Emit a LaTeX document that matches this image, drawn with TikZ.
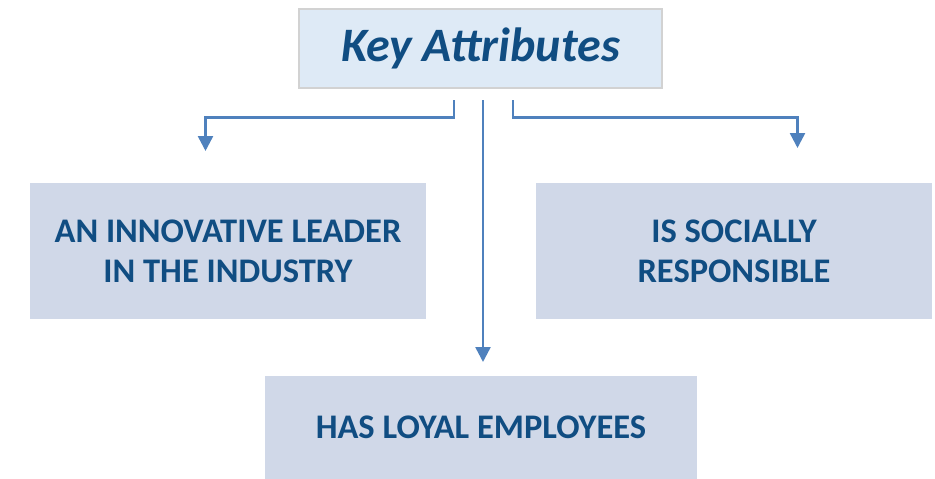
\documentclass[tikz,border=0pt]{standalone}
\usepackage{fontspec}
\setmainfont{Carlito}
\usetikzlibrary{arrows.meta}
\definecolor{txtblue}{RGB}{16,77,130}
\definecolor{boxfill}{RGB}{208,216,232}
\definecolor{topfill}{RGB}{222,234,246}
\definecolor{topline}{RGB}{210,210,210}
\definecolor{connblue}{RGB}{79,129,189}
\begin{document}
\begin{tikzpicture}[x=1pt,y=-1pt,
  topbox/.style={fill=topfill,draw=topline,line width=1.5pt,minimum width=363pt,minimum height=79pt,inner sep=0pt,
    text=txtblue,font=\fontsize{48}{56}\selectfont\bfseries\itshape},
  attr/.style={fill=boxfill,inner sep=0pt,align=center,text=txtblue,
    font=\fontsize{34.5}{40}\selectfont\bfseries},
  conn/.style={draw=connblue,line width=2.5pt,-{Triangle[width=15pt,length=15pt]}}]
\useasboundingbox (0,0) rectangle (935,479);
\node[topbox] (top) at (480.5,48.5) {Key Attributes};
\node[attr,minimum width=396pt,minimum height=136pt] (left) at (228,251) {AN INNOVATIVE LEADER\\IN THE INDUSTRY};
\node[attr,minimum width=396pt,minimum height=136pt] (right) at (734,251) {IS SOCIALLY\\RESPONSIBLE};
\node[attr,minimum width=432pt,minimum height=103pt] (bottom) at (481,427.5) {HAS LOYAL EMPLOYEES};
\coordinate (l0) at (454,100);
\coordinate (l1) at (205.5,151);
\coordinate (m0) at (483,100);
\coordinate (m1) at (483,362);
\coordinate (r0) at (513,100);
\coordinate (r1) at (797.5,148);
\draw[conn] (l0) -- (l0 |- 0,117.5) -- (l1 |- 0,117.5) -- (l1);
\draw[conn] (m0) -- (m1);
\draw[conn] (r0) -- (r0 |- 0,117.5) -- (r1 |- 0,117.5) -- (r1);
\end{tikzpicture}
\end{document}
